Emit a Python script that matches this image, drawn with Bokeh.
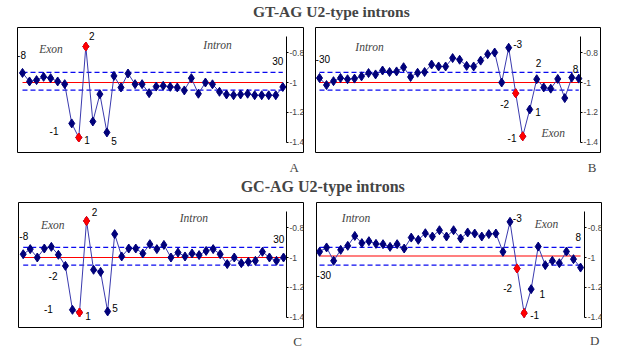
from bokeh.plotting import figure
from bokeh.layouts import column, row
from bokeh.models import Range1d, LinearAxis, FixedTicker, Label, ColumnDataSource
from bokeh.core.properties import value
from bokeh.embed import file_html
from bokeh.resources import INLINE

# ---------------- data ----------------
titles = ["GT-AG U2-type introns", "GC-AG U2-type introns"]
panel_letters = ["A", "B", "C", "D"]

# nucleotide positions (no position 0)
pos_donor = [-8, -7, -6, -5, -4, -3, -2, -1] + list(range(1, 31))
pos_acceptor = list(range(-30, 0)) + [1, 2, 3, 4, 5, 6, 7, 8]

vals_A = [-0.936, -0.993, -0.984, -0.962, -0.971, -0.993, -1.011, -1.273,
          -1.367, -0.760, -1.260, -1.078, -1.333, -0.956, -1.033, -0.940,
          -1.011, -1.011, -1.071, -1.027, -1.022, -1.029, -1.033, -1.053,
          -0.971, -1.075, -1.000, -1.012, -1.062, -1.080, -1.085, -1.080,
          -1.075, -1.085, -1.085, -1.085, -1.085, -1.030]
vals_B = [-0.970, -1.017, -0.991, -0.970, -0.978, -0.974, -0.959, -0.937,
          -0.946, -0.920, -0.930, -0.926, -0.898, -0.963, -0.935, -0.930,
          -0.880, -0.893, -0.893, -0.837, -0.848, -0.889, -0.893, -0.854,
          -0.811, -0.800, -1.000, -0.768, -1.072, -1.359,
          -1.180, -0.978, -1.033, -1.041, -0.976, -1.104, -0.967, -0.974]
vals_C = [-0.978, -0.944, -1.000, -0.940, -0.929, -0.982, -1.056, -1.349,
          -1.367, -0.756, -1.082, -1.096, -1.360, -0.844, -0.993, -0.940,
          -0.940, -0.973, -0.911, -0.944, -0.916, -1.000, -0.967, -0.993,
          -0.973, -0.984, -0.956, -0.944, -0.978, -1.044, -1.000, -1.038,
          -1.029, -1.022, -0.962, -1.000, -1.022, -1.000]
vals_D = [-0.962, -0.933, -1.022, -0.949, -0.922, -0.856, -0.904, -0.891,
          -0.909, -0.911, -0.929, -0.911, -0.940, -0.867, -0.882, -0.838,
          -0.860, -0.818, -0.860, -0.818, -0.873, -0.833, -0.840, -0.860,
          -0.844, -0.840, -0.962, -0.762, -1.073, -1.371,
          -1.211, -0.927, -1.051, -1.022, -1.038, -0.960, -1.011, -1.067]

red_A = [1, 2]
red_B = [-2, -1]
red_C = [1, 2]
red_D = [-2, -1]

mean_vals = [-1.0, -1.0, -1.0, -0.99]
upper_band = -0.933
lower_band = -1.051

labels_A = [-8, -1, 1, 2, 5, 30]
labels_B = [-30, -3, -2, -1, 1, 2, 8]
labels_C = [-8, -2, -1, 1, 2, 5, 30]
labels_D = [-30, -3, -2, -1, 1, 8]

yticks = [-1.4, -1.2, -1.0, -0.8]
ytick_labels = ["-1.4", "-1.2", "-1", "-0.8"]

# ---------------- layout / style (not data) ----------------
offs_A = [(-1, -18), (-17.7, 7.3), (8.3, 2.3), (6, -11), (7, 8.3), (-5, -26)]
offs_B = [(3.3, -19.4), (9, -4), (-11, 11), (-10.7, 2), (8.3, 2.7), (1.7, -16.3), (-3.3, -10)]
offs_C = [(0.6, -18.3), (-12.4, 10), (-24, -0.7), (8.6, 3.3), (8, -9), (7.3, -3), (-4.7, -18.4)]
offs_D = [(4.3, 23.3), (7.3, -4.3), (-9.4, 19.6), (10.6, 2), (11, 5), (-2.3, -31)]

# region label centres, screen px from frame left / frame bottom
regions_A = [("Exon", 33.5, 103.2), ("Intron", 200, 107.9)]
regions_B = [("Intron", 54, 105.9), ("Exon", 237.7, 19.9)]
regions_C = [("Exon", 34.3, 102.6), ("Intron", 175.3, 109.9)]
regions_D = [("Intron", 39.5, 109.2), ("Exon", 230, 103.6)]

geom = {
    "A": dict(fw=286, l=17, r=6, t=3, b=2, xr=(-0.71, 39.94), ax=37.53),
    "B": dict(fw=285, l=6, r=24, t=3, b=2, xr=(-0.57, 40.1), ax=37.24),
    "C": dict(fw=285, l=18, r=6, t=4, b=3, xr=(-0.67, 39.84), ax=37.43),
    "D": dict(fw=285, l=7, r=23, t=4, b=3, xr=(-0.43, 39.97), ax=37.6),
}

LINE_COL = "#3a3aae"
MARK_COL = "#00007a"
RED = "#ff0000"
DASH_COL = "#0a0af0"
SERIF = "Liberation Serif"
SANS = "Liberation Sans"


def make_panel(key, pos, vals, reds, mean, labs, offs, regions):
    g = geom[key]
    p = figure(frame_width=g["fw"], frame_height=125,
               min_border_left=g["l"], min_border_right=g["r"],
               min_border_top=g["t"], min_border_bottom=g["b"],
               x_range=Range1d(*g["xr"]), y_range=Range1d(-1.467, -0.633),
               x_axis_location=None, y_axis_location=None,
               toolbar_location=None, tools="", output_backend="svg")
    p.grid.visible = False
    p.outline_line_color = "black"
    p.outline_line_width = 1
    p.background_fill_color = "white"
    p.border_fill_color = "white"

    idx = list(range(len(pos)))
    ends = [idx[0], idx[-1]]
    p.line(ends, [upper_band, upper_band], line_color=DASH_COL, line_width=1.2, line_dash="5 3")
    p.line(ends, [lower_band, lower_band], line_color=DASH_COL, line_width=1.2, line_dash="5 3")
    p.line(ends, [mean, mean], line_color=RED, line_width=1.2)

    p.line(idx, vals, line_color=LINE_COL, line_width=1)
    p.scatter(idx, vals, marker="diamond", size=9, fill_color=MARK_COL, line_color=MARK_COL)
    ri = [pos.index(q) for q in reds]
    p.scatter(ri, [vals[i] for i in ri], marker="diamond", size=9, fill_color=RED, line_color=RED)

    li = [pos.index(q) for q in labs]
    src = ColumnDataSource(dict(x=li, y=[vals[i] for i in li], t=[str(q) for q in labs],
                                dx=[o[0] for o in offs], dy=[o[1] for o in offs]))
    p.text("x", "y", text="t", x_offset="dx", y_offset="dy", source=src,
           text_font=value(SANS), text_font_size="10px", text_align="center",
           text_baseline="middle", text_color="black")

    for txt, rx, ry in regions:
        p.add_layout(Label(x=rx, y=ry, x_units="screen", y_units="screen", text=txt,
                           text_font=SERIF, text_font_style="italic", text_font_size="11.5px",
                           text_align="center", text_baseline="middle"))

    ax = LinearAxis(fixed_location=g["ax"], bounds=(-1.4, -0.69),
                    ticker=FixedTicker(ticks=yticks),
                    major_label_overrides=dict(zip(yticks, ytick_labels)))
    ax.axis_line_color = "black"
    ax.axis_line_width = 1
    ax.major_tick_out = 2
    ax.major_tick_in = 0
    ax.minor_tick_line_color = None
    ax.major_label_text_font = SANS
    ax.major_label_text_font_size = "8.5px"
    ax.major_label_standoff = 1
    p.add_layout(ax, "right")
    return p


def text_fig(h, items):
    t = figure(width=624, height=h, x_range=Range1d(0, 624), y_range=Range1d(0, h),
               min_border=0, x_axis_location=None, y_axis_location=None,
               toolbar_location=None, tools="", output_backend="svg")
    t.grid.visible = False
    t.outline_line_color = None
    for txt, cx, cy, size, style in items:
        t.add_layout(Label(x=cx, y=cy, x_units="screen", y_units="screen", text=txt,
                           text_font=SERIF, text_font_style=style, text_font_size=size,
                           text_align="center", text_baseline="middle"))
    return t


pA = make_panel("A", pos_donor, vals_A, red_A, mean_vals[0], labels_A, offs_A, regions_A)
pB = make_panel("B", pos_acceptor, vals_B, red_B, mean_vals[1], labels_B, offs_B, regions_B)
pC = make_panel("C", pos_donor, vals_C, red_C, mean_vals[2], labels_C, offs_C, regions_C)
pD = make_panel("D", pos_acceptor, vals_D, red_D, mean_vals[3], labels_D, offs_D, regions_D)

t1 = text_fig(24, [(titles[0], 330.8, 12.6, "15.5px", "bold")])
t2 = text_fig(44, [(panel_letters[0], 293.7, 31.4, "13px", "normal"),
                   (panel_letters[1], 591.7, 30.7, "13px", "normal"),
                   (titles[1], 322.2, 12.4, "16px", "bold")])
t3 = text_fig(30, [(panel_letters[2], 297, 18.7, "13px", "normal"),
                   (panel_letters[3], 594.3, 20.1, "13px", "normal")])

layout = column(t1, row(pA, pB), t2, row(pC, pD), t3)

with open("out.html", "w") as f:
    f.write(file_html(layout, INLINE))
